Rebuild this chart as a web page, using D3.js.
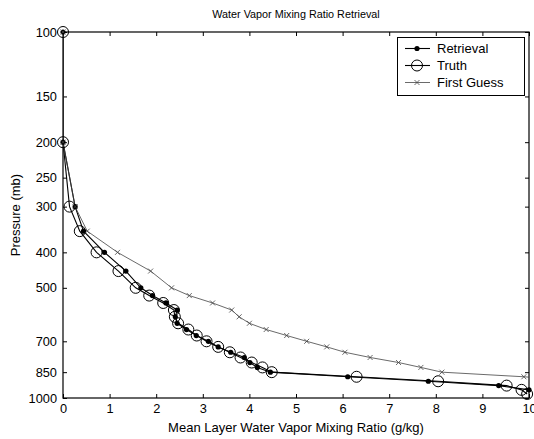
<!DOCTYPE html>
<html>
<head>
<meta charset="utf-8">
<script src="https://cdn.jsdelivr.net/npm/d3@7"></script>
<style>
  body { margin: 0; background: #fff; }
  svg text { font-family: "Liberation Sans", Arial, Helvetica, sans-serif; }
</style>
</head>
<body>
<svg id="chart" width="534" height="439"></svg>
<script>
// pressure levels (mb)
var levels = [100, 200, 300, 350, 400, 450, 500, 525, 550, 575, 600, 625, 650, 675, 700,
              725, 750, 775, 800, 825, 850, 875, 900, 925, 950, 975];

// mixing ratio (g/kg) per level, null = no point
var retrieval = [0, 0, 0.26, 0.44, 0.89, 1.35, 1.67, 1.92, 2.21, 2.45, 2.41, 2.45, 2.65, 2.86, 3.12,
                 3.33, 3.6, 3.89, 4.01, 4.17, 4.45, 6.11, 7.84, 9.35, 10.0, null];
var truth     = [0, 0, 0.14, 0.36, 0.72, 1.19, 1.56, 1.85, 2.15, 2.38, 2.4, 2.47, 2.69, 2.87, 3.08,
                 3.33, 3.58, 3.81, 4.05, 4.28, 4.48, 6.3, 8.05, 9.52, 9.84, 9.96];
var firstGuess = [0, 0, 0.26, 0.52, 1.17, 1.88, 2.33, 2.71, 3.21, 3.62, 3.78, 4.0, 4.36, 4.8, 5.23,
                  5.66, 6.05, 6.59, 7.2, 7.68, 8.13, 9.89, 11.2, null, null, null];

var xTicks = [0, 1, 2, 3, 4, 5, 6, 7, 8, 9, 10];
var yTicks = [100, 150, 200, 250, 300, 400, 500, 700, 850, 1000];
var seriesNames = ["Retrieval", "Truth", "First Guess"];

(function () {
    var svg = d3.select("#chart");
    var pl = 63, pr = 529, pt = 32, pb = 398;
    var fsTick = "12.8px", fsLab = "13px", fsTitle = "10.8px";

    var x = d3.scaleLinear().domain([0, 10]).range([pl, pr]);
    var y = d3.scaleLog().domain([100, 1000]).range([pt, pb]);

    function pts(vals) {
        var out = [];
        for (var i = 0; i < levels.length; i++) {
            if (vals[i] != null) out.push([vals[i], levels[i]]);
        }
        return out;
    }
    function inside(d) { return d[0] <= 10; }

    svg.append("clipPath").attr("id", "plotclip")
        .append("rect").attr("x", pl).attr("y", pt)
        .attr("width", pr - pl).attr("height", pb - pt);

    // axes, ticks pointing inward
    var gx = svg.append("g").attr("transform", "translate(0," + pb + ")")
        .call(d3.axisBottom(x).tickValues(xTicks).tickSizeInner(-4).tickSizeOuter(0).tickPadding(3));
    var gxt = svg.append("g").attr("transform", "translate(0," + pt + ")")
        .call(d3.axisTop(x).tickValues(xTicks).tickSizeInner(-4).tickSizeOuter(0).tickFormat(""));
    var gy = svg.append("g").attr("transform", "translate(" + pl + ",0)")
        .call(d3.axisLeft(y).tickValues(yTicks).tickSizeInner(-4).tickSizeOuter(0).tickPadding(6).tickFormat(d3.format("d")));
    var gyr = svg.append("g").attr("transform", "translate(" + pr + ",0)")
        .call(d3.axisRight(y).tickValues(yTicks).tickSizeInner(-4).tickSizeOuter(0).tickFormat(""));

    [gx, gxt, gy, gyr].forEach(function (g) {
        g.select(".domain").remove();
        g.selectAll(".tick line").attr("stroke", "#000");
        g.selectAll("text").attr("font-size", fsTick).attr("fill", "#000").style("font-family", null);
    });
    gx.selectAll("text").attr("y", 6);

    // box
    svg.append("rect").attr("x", pl).attr("y", pt)
        .attr("width", pr - pl).attr("height", pb - pt)
        .attr("fill", "none").attr("stroke", "#000").attr("stroke-width", 1.2);

    var line = d3.line().x(function (d) { return x(d[0]); }).y(function (d) { return y(d[1]); });
    var lines = svg.append("g").attr("clip-path", "url(#plotclip)");
    var marks = svg.append("g");
    var fgCol = "#444";

    // Retrieval
    lines.append("path").datum(pts(retrieval)).attr("d", line)
        .attr("fill", "none").attr("stroke", "#000").attr("stroke-width", 1.1);
    marks.selectAll(".dot").data(pts(retrieval).filter(inside))
        .enter().append("circle").attr("class", "dot")
        .attr("cx", function (d) { return x(d[0]); }).attr("cy", function (d) { return y(d[1]); })
        .attr("r", 2.6).attr("fill", "#000");

    // Truth
    lines.append("path").datum(pts(truth)).attr("d", line)
        .attr("fill", "none").attr("stroke", "#000").attr("stroke-width", 1.1);
    marks.selectAll(".ring").data(pts(truth).filter(inside))
        .enter().append("circle").attr("class", "ring")
        .attr("cx", function (d) { return x(d[0]); }).attr("cy", function (d) { return y(d[1]); })
        .attr("r", 5.5).attr("fill", "none").attr("stroke", "#000").attr("stroke-width", 1);

    // First Guess
    lines.append("path").datum(pts(firstGuess)).attr("d", line)
        .attr("fill", "none").attr("stroke", fgCol).attr("stroke-width", 0.8);
    function cross(g, cx, cy, s) {
        g.append("path")
            .attr("d", "M" + (cx - s) + "," + (cy - s) + "L" + (cx + s) + "," + (cy + s) +
                       "M" + (cx - s) + "," + (cy + s) + "L" + (cx + s) + "," + (cy - s))
            .attr("stroke", fgCol).attr("stroke-width", 0.8).attr("fill", "none");
    }
    pts(firstGuess).filter(inside).forEach(function (d) {
        cross(marks, x(d[0]), y(d[1]), 2.5);
    });

    // titles
    svg.append("text").attr("x", (pl + pr) / 2).attr("y", 18)
        .attr("text-anchor", "middle").attr("font-size", fsTitle)
        .text("Water Vapor Mixing Ratio Retrieval");
    svg.append("text").attr("x", (pl + pr) / 2).attr("y", 432)
        .attr("text-anchor", "middle").attr("font-size", fsLab)
        .text("Mean Layer Water Vapor Mixing Ratio (g/kg)");
    svg.append("text")
        .attr("transform", "translate(15," + ((pt + pb) / 2) + ") rotate(-90)")
        .attr("text-anchor", "middle").attr("dy", "0.35em").attr("font-size", fsLab)
        .text("Pressure (mb)");

    // legend
    var lg = svg.append("g");
    lg.append("rect").attr("x", 397.5).attr("y", 37.5).attr("width", 127).attr("height", 58)
        .attr("fill", "#fff").attr("stroke", "#000").attr("stroke-width", 1);
    var rowY = [48.5, 65.5, 82.5];
    seriesNames.forEach(function (name, i) {
        var yy = rowY[i];
        var col = i == 2 ? fgCol : "#000";
        lg.append("line").attr("x1", 405).attr("x2", 430).attr("y1", yy).attr("y2", yy)
            .attr("stroke", col).attr("stroke-width", i == 2 ? 0.8 : 1.1);
        if (i == 0) {
            lg.append("circle").attr("cx", 417).attr("cy", yy).attr("r", 2.6).attr("fill", "#000");
        } else if (i == 1) {
            lg.append("circle").attr("cx", 417).attr("cy", yy).attr("r", 5.5)
                .attr("fill", "none").attr("stroke", "#000");
        } else {
            cross(lg, 417, yy, 2.5);
        }
        lg.append("text").attr("x", 437).attr("y", yy).attr("dy", "0.35em")
            .attr("font-size", fsLab).text(name);
    });
})();
</script>
</body>
</html>
